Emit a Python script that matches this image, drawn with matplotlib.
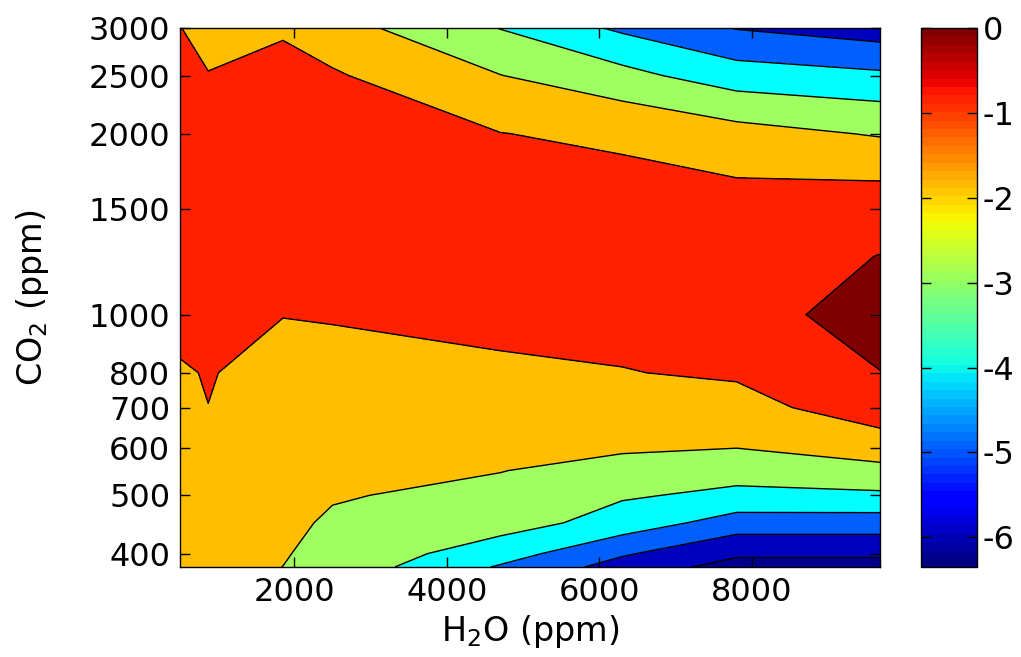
import matplotlib
matplotlib.use("Agg")
import matplotlib.pyplot as plt
import numpy as np
from matplotlib.colors import Normalize
from matplotlib.cm import ScalarMappable
from matplotlib.ticker import NullLocator

plt.rcParams['font.family'] = 'DejaVu Sans'
plt.rcParams['mathtext.default'] = 'regular'
plt.rcParams['axes.unicode_minus'] = False

h2o = [500, 870, 1850, 2500, 4700, 6300, 7800, 9680]
co2 = [380, 400, 450, 500, 550, 600, 700, 800, 1000, 1250, 1500, 2000, 2500, 3000]

# values per H2O column, bottom (380 ppm CO2) to top (3000 ppm CO2)
col_500 = [-1.8, -1.78, -1.72, -1.66, -1.59, -1.52, -1.35, -1.1, -0.65, -0.57, -0.5, -0.55, -0.75, -0.98]
col_870 = [-1.75, -1.72, -1.62, -1.52, -1.41, -1.3, -1.007, -0.946, -0.6, -0.52, -0.45, -0.6, -0.971, -1.3]
col_1850 = [-2.005, -1.94, -1.8, -1.74, -1.68, -1.62, -1.48, -1.34, -0.976, -0.74, -0.5, -0.5, -0.74, -1.1]
col_2500 = [-2.35, -2.28, -2.12, -1.93, -1.85, -1.75, -1.55, -1.3, -0.93, -0.71, -0.5, -0.6, -0.894, -1.6]
col_4700 = [-4.1, -3.55, -2.57, -2.25, -1.975, -1.7, -1.4, -1.12, -0.78, -0.69, -0.6, -0.98, -1.98, -3.03]
col_6300 = [-5.4, -4.885, -3.4, -2.9, -2.35, -1.874, -1.4, -1.04, -0.6, -0.57, -0.55, -1.198, -2.7, -4.18]
col_7800 = [-6.38, -5.84, -4.47, -3.2, -2.67, -1.99, -1.4, -0.85, -0.047, -0.45, -0.61, -1.64, -3.55, -5.05]
col_9680 = [-6.38, -5.84, -4.47, -3.17, -2.24, -1.56, -0.37, -0.002, 0.05, 0.02, -0.45, -2.08, -3.83, -5.54]

levels = [-7, -6, -5, -4, -3, -2, -1, 0, 1]
band_colors = ['#00008F', '#0000BF', '#0060FF', '#00FFFF',
               '#9FFF60', '#FFBF00', '#FF2000', '#800000']

x_ticks = [2000, 4000, 6000, 8000]
y_ticks = [400, 500, 600, 700, 800, 1000, 1500, 2000, 2500, 3000]
cbar_ticks = [-6, -5, -4, -3, -2, -1, 0]
cbar_lim = (-6.35, 0)

fs = 23

Z = np.array([col_500, col_870, col_1850, col_2500,
              col_4700, col_6300, col_7800, col_9680]).T
X, Y = np.meshgrid(h2o, co2)

fig = plt.figure(figsize=(10.21, 6.57), dpi=100)
ax = fig.add_axes([0.1763, 0.137, 0.6856, 0.8204])

ax.contourf(X, Y, Z, levels=levels, colors=band_colors)
ax.contour(X, Y, Z, levels=levels[1:-1], colors='k', linewidths=1.0,
           linestyles='solid')

ax.set_yscale('log')
ax.set_xlim(h2o[0], h2o[-1])
ax.set_ylim(co2[0], co2[-1])
ax.set_xticks(x_ticks)
ax.set_xticklabels([str(t) for t in x_ticks])
ax.set_yticks(y_ticks)
ax.set_yticklabels([str(t) for t in y_ticks])
ax.yaxis.set_minor_locator(NullLocator())
ax.xaxis.set_minor_locator(NullLocator())
ax.tick_params(axis='both', direction='in', top=True, right=True,
               length=7, width=1, labelsize=fs, pad=7)
for s in ax.spines.values():
    s.set_linewidth(1)

ax.set_xlabel('H$_2$O (ppm)', fontsize=fs + 1)
ax.set_ylabel('CO$_2$ (ppm)', fontsize=fs + 1)
ax.xaxis.set_label_coords(0.5, -0.085)
ax.yaxis.set_label_coords(-0.185, 0.5)

# colorbar
cax = fig.add_axes([0.902, 0.137, 0.055, 0.8204])
sm = ScalarMappable(norm=Normalize(*cbar_lim), cmap=plt.get_cmap('jet', 64))
cb = fig.colorbar(sm, cax=cax, ticks=cbar_ticks)
cb.outline.set_linewidth(1)
cax.tick_params(direction='in', left=True, right=True, length=7, width=1,
                labelsize=fs, pad=4)
cax.set_yticklabels([str(t) for t in cbar_ticks])

fig.savefig('out.png', dpi=100)
